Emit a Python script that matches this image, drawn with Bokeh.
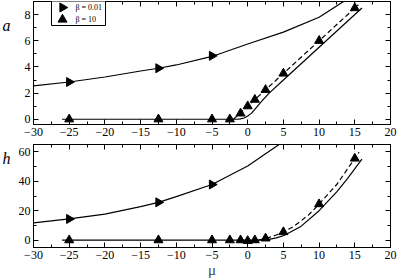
from bokeh.plotting import figure
from bokeh.layouts import column, row
from bokeh.models import (Range1d, LinearAxis, Label, BoxAnnotation,
                          SingleIntervalTicker, CustomJSTickFormatter)
from bokeh.embed import file_html
from bokeh.resources import INLINE

# ---------------- data ----------------
mu_mark_01 = [-25, -12.5, -5]
a_mark_01 = [2.85, 3.9, 4.85]
h_mark_01 = [14.4, 25.7, 37.8]

mu_mark_10 = [-25, -12.5, -5, -2.5, -1, 0, 1, 2.5, 5, 10, 15]
a_mark_10 = [0, 0, 0, 0, 0.45, 1.0, 1.5, 2.25, 3.5, 6.0, 8.5]
h_mark_10 = [0, 0, 0, 0, 0, -0.5, 0, 1.2, 5.5, 24.5, 55.5]

mu_a_01 = [-30, -25, -20, -15, -12.5, -10, -5, 0, 5, 10, 14]
a_01 = [2.55, 2.85, 3.23, 3.69, 3.9, 4.15, 4.8, 5.75, 6.66, 7.8, 9.2]

mu_h_01 = [-30, -25, -20, -15, -12.5, -10, -5, 0, 5]
h_01 = [11.7, 14.4, 17.7, 22.8, 25.7, 29.6, 37.8, 50.4, 67.0]

mu_a_10_solid = [-26, -1.5, -1, -0.5, 0, 0.5, 1, 2, 3, 5, 10, 16]
a_10_solid = [0, 0, 0.03, 0.1, 0.25, 0.45, 0.75, 1.4, 2.0, 3.0, 5.5, 8.5]
mu_a_10_dash = [-2, 0, 5, 10, 15.5]
a_10_dash = [0, 1.0, 3.5, 6.0, 8.75]

mu_h_10_solid = [-26, 1.5, 3, 4, 5, 6, 7.5, 10, 12.5, 14, 16]
h_10_solid = [0, 0, 0.5, 1.5, 3, 5.5, 9.5, 20, 33, 42, 55]
mu_h_10_dash = [1.5, 2.5, 4, 5, 6.5, 8.5, 10, 12.5, 15, 15.6]
h_10_dash = [0, 1, 3.5, 5.5, 9.5, 17, 24.5, 38, 55.5, 59.8]

x_ticks_step = 5
legend_labels = ["\u03b2 = 0.01", "\u03b2 = 10"]
y_labels = ["a", "h"]

SERIF = "Liberation Serif"
X0, X1 = -30, 20
A0, A1 = -0.4, 9.0
H0, H1 = -5, 65
W = 397
LW = 13                   # width of the strip holding the y labels
BL, BR = 33 - LW, 7
FW = W - 33 - BR          # frame width
FH1 = 123                 # top frame height
H_TOP, H_BOT = 141, 139


def tick_style(ax):
    ax.major_tick_in = 5
    ax.major_tick_out = 0
    ax.minor_tick_in = 3
    ax.minor_tick_out = 0
    ax.axis_line_color = "black"
    ax.major_tick_line_color = "black"
    ax.minor_tick_line_color = "black"


def make_axes(p, ystep):
    xb = LinearAxis(ticker=SingleIntervalTicker(interval=x_ticks_step, num_minor_ticks=2))
    yl = LinearAxis(ticker=SingleIntervalTicker(interval=ystep, num_minor_ticks=2))
    for ax in (xb, yl):
        tick_style(ax)
        ax.major_label_text_font = SERIF
        ax.major_label_text_font_size = "12px"
        ax.major_label_text_color = "black"
        ax.major_label_standoff = 3
    p.add_layout(xb, "below")
    p.add_layout(yl, "left")
    for loc, step in (("above", x_ticks_step), ("right", ystep)):
        ax = LinearAxis(ticker=SingleIntervalTicker(interval=step, num_minor_ticks=2),
                        formatter=CustomJSTickFormatter(code="return ''"))
        tick_style(ax)
        ax.major_label_text_font_size = "0px"
        ax.major_label_standoff = 0
        p.add_layout(ax, loc)
    p.xgrid.visible = False
    p.ygrid.visible = False
    p.outline_line_color = "black"
    p.outline_line_width = 1
    return xb, yl


def label_strip(height, text, y_center_from_top):
    s = figure(width=LW, height=height, x_range=Range1d(0, LW), y_range=Range1d(0, height),
               output_backend="svg", toolbar_location=None,
               x_axis_location=None, y_axis_location=None,
               min_border_left=0, min_border_right=0, min_border_top=0, min_border_bottom=0)
    s.outline_line_color = None
    s.xgrid.visible = False
    s.ygrid.visible = False
    s.add_layout(Label(x=6, y=height - y_center_from_top, text=text,
                       text_font=SERIF, text_font_style="italic", text_font_size="16px",
                       text_align="center", text_baseline="middle", text_color="black"))
    return s


# ---------------- top panel (a) ----------------
p1 = figure(width=W - LW, height=H_TOP, x_range=Range1d(X0, X1), y_range=Range1d(A0, A1),
            output_backend="svg", toolbar_location=None, x_axis_location=None, y_axis_location=None,
            min_border_left=BL, min_border_right=BR, min_border_top=1, min_border_bottom=17)
p1.line(mu_a_01, a_01, line_color="black", line_width=1.2)
p1.line(mu_a_10_solid, a_10_solid, line_color="black", line_width=1.2)
p1.line(mu_a_10_dash, a_10_dash, line_color="black", line_width=1.2, line_dash="5 3")
p1.scatter(mu_mark_01, a_mark_01, marker="triangle", angle=-1.5708, size=9,
           fill_color="black", line_color="black")
p1.scatter(mu_mark_10, a_mark_10, marker="triangle", size=9,
           fill_color="black", line_color="black")
make_axes(p1, 2)


# legend (placed from pixel offsets inside the top frame)
def px2x(px):
    return X0 + (px - 33) / FW * (X1 - X0)


def py2a(py):
    return A1 - (py - 1) / FH1 * (A1 - A0)


p1.add_layout(BoxAnnotation(left=px2x(51), right=px2x(105), top=py2a(0), bottom=py2a(25),
                            fill_color="white", fill_alpha=1, line_color="black", line_width=1,
                            line_alpha=1))
p1.scatter([px2x(62)], [py2a(7)], marker="triangle", angle=-1.5708, size=9,
           fill_color="black", line_color="black", level="overlay")
p1.scatter([px2x(62)], [py2a(19)], marker="triangle", size=9,
           fill_color="black", line_color="black", level="overlay")
for i, lab in enumerate(legend_labels):
    p1.add_layout(Label(x=px2x(75), y=py2a(7 + 12 * i), text=lab, text_font=SERIF,
                        text_font_size="8px", text_baseline="middle", text_color="black"))

# ---------------- bottom panel (h) ----------------
p2 = figure(width=W - LW, height=H_BOT, x_range=Range1d(X0, X1), y_range=Range1d(H0, H1),
            output_backend="svg", toolbar_location=None, x_axis_location=None, y_axis_location=None,
            min_border_left=BL, min_border_right=BR, min_border_top=3, min_border_bottom=30)
p2.line(mu_h_01, h_01, line_color="black", line_width=1.2)
p2.line(mu_h_10_solid, h_10_solid, line_color="black", line_width=1.2)
p2.line(mu_h_10_dash, h_10_dash, line_color="black", line_width=1.2, line_dash="5 3")
p2.scatter(mu_mark_01, h_mark_01, marker="triangle", angle=-1.5708, size=9,
           fill_color="black", line_color="black")
p2.scatter(mu_mark_10, h_mark_10, marker="triangle", size=9,
           fill_color="black", line_color="black")
xb2, yl2 = make_axes(p2, 20)
xb2.axis_label = "\u03bc"
xb2.axis_label_text_font = SERIF
xb2.axis_label_text_font_style = "normal"
xb2.axis_label_text_font_size = "15px"
xb2.axis_label_standoff = 0

s1 = label_strip(H_TOP, y_labels[0], 27)
s2 = label_strip(H_BOT, y_labels[1], 160 - H_TOP)

layout = column(row(s1, p1, spacing=0), row(s2, p2, spacing=0), spacing=0)

open("out.html", "w").write(file_html(layout, INLINE))
